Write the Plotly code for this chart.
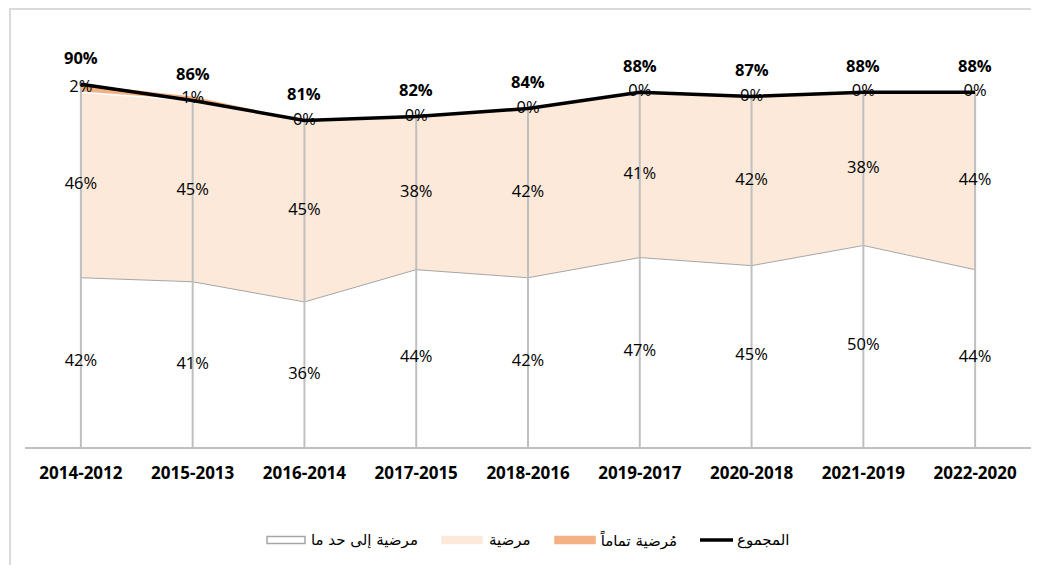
import plotly.graph_objects as go

categories = ["2014-2012", "2015-2013", "2016-2014", "2017-2015", "2018-2016",
              "2019-2017", "2020-2018", "2021-2019", "2022-2020"]
somewhat = [42, 41, 36, 44, 42, 47, 45, 50, 44]      # مرضية إلى حد ما
satisfied = [46, 45, 45, 38, 42, 41, 42, 38, 44]     # مرضية
very = [2, 1, 0, 0, 0, 0, 0, 0, 0]                   # مُرضية تماماً
total = [90, 86, 81, 82, 84, 88, 87, 88, 88]         # المجموع

names = ["مرضية إلى حد ما", "مرضية", "مُرضية تماماً", "المجموع"]

NUM_FONT = "'Open Sans', Lato, sans-serif"
AR_FONT = "'DejaVu Sans', sans-serif"
GRAY = "#BFBFBF"

# plot-area geometry on screen (page has 8px body margin)
PL, PR, PT, PB = 25, 1031, 44, 447


def px(sx):
    return (sx - PL) / (PR - PL)


def py(sy):
    return (PB - sy) / (PB - PT)


fig = go.Figure()

fig.add_trace(go.Scatter(x=categories, y=somewhat, name=names[0], stackgroup="s",
                         mode="lines", line=dict(color="#A6A6A6", width=1),
                         fillcolor="#FFFFFF", hoverinfo="skip"))
fig.add_trace(go.Scatter(x=categories, y=satisfied, name=names[1], stackgroup="s",
                         mode="lines", line=dict(color="#FFFFFF", width=1.5),
                         fillcolor="#FCE9DA", hoverinfo="skip"))
fig.add_trace(go.Scatter(x=categories, y=very, name=names[2], stackgroup="s",
                         mode="lines", line=dict(color="#F4B183", width=0),
                         fillcolor="#F4B183", hoverinfo="skip"))

# drop lines
dx, dy = [], []
for c, t in zip(categories, total):
    dx += [c, c, None]
    dy += [0, t, None]
fig.add_trace(go.Scatter(x=dx, y=dy, mode="lines", line=dict(color=GRAY, width=2),
                         showlegend=False, hoverinfo="skip"))

fig.add_trace(go.Scatter(x=categories, y=total, name=names[3], mode="lines",
                         line=dict(color="#000000", width=3.5), hoverinfo="skip"))

# segment labels
cum = [0] * len(categories)
for vals in (somewhat, satisfied, very):
    mids = [c + v / 2 for c, v in zip(cum, vals)]
    fig.add_trace(go.Scatter(x=categories, y=mids, mode="text",
                             text=[f"{v}%" for v in vals], textposition="middle center",
                             textfont=dict(family=NUM_FONT, size=16.5, color="#000000"),
                             showlegend=False, hoverinfo="skip"))
    cum = [c + v for c, v in zip(cum, vals)]

for c, t in zip(categories, total):
    fig.add_annotation(x=c, y=t, text=f"<b>{t}%</b>", showarrow=False, yshift=27,
                       font=dict(family=NUM_FONT, size=16.5, color="#000000"))

# chart border (left & top visible)
fig.add_shape(type="rect", xref="paper", yref="paper", x0=px(10), x1=px(1060),
              y0=py(600), y1=py(9), line=dict(color="#D9D9D9", width=2), layer="below")

# manual legend
ly = 540
legend_items = [
    # (swatch kind, x0, x1, text start, fill, line)
    ("box", 267, 305, 309, "#FFFFFF", "#A6A6A6"),
    ("box", 442, 482, 487, "#FCE9DA", "#FCE9DA"),
    ("box", 555, 595, 598, "#F4B183", "#F4B183"),
    ("line", 700, 733, 735, "#000000", "#000000"),
]
for (kind, x0, x1, tx, fc, lc), nm in zip(legend_items, names):
    if kind == "box":
        fig.add_shape(type="rect", xref="paper", yref="paper",
                      x0=px(x0), x1=px(x1), y0=py(ly + 3.5), y1=py(ly - 3.5),
                      fillcolor=fc, line=dict(color=lc, width=1.5))
    else:
        fig.add_shape(type="line", xref="paper", yref="paper",
                      x0=px(x0), x1=px(x1), y0=py(ly), y1=py(ly),
                      line=dict(color=lc, width=3.5))
    fig.add_annotation(xref="paper", yref="paper", x=px(tx), y=py(ly),
                       xanchor="left", yanchor="middle", text=nm, showarrow=False,
                       font=dict(family=AR_FONT, size=15, color="#000000"))

fig.update_layout(
    width=1039, height=565,
    margin=dict(l=PL - 8, r=1039 - (PR - 8), t=PT - 8, b=565 - (PB - 8)),
    plot_bgcolor="white", paper_bgcolor="white",
    xaxis=dict(type="category", range=[-0.5, 8.5], showgrid=False,
               showline=True, linecolor=GRAY, linewidth=1.5,
               ticks="outside", ticklen=10, tickcolor="rgba(0,0,0,0)",
               tickfont=dict(family=NUM_FONT, size=17, color="#000000", weight="bold")),
    yaxis=dict(range=[0, 100], visible=False, showgrid=False),
    showlegend=False,
)

fig.write_html("out.html")
